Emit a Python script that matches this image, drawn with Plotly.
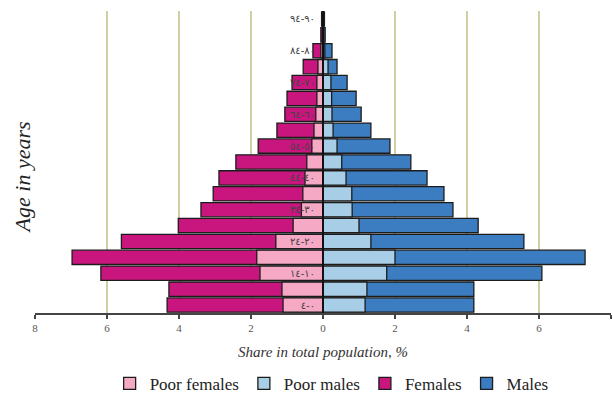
import plotly.graph_objects as go

age_groups = ["0-4", "5-9", "10-14", "15-19", "20-24", "25-29", "30-34", "35-39",
              "40-44", "45-49", "50-54", "55-59", "60-64", "65-69", "70-74",
              "75-79", "80-84", "85-89", "90-94"]
# Arabic-Indic tick labels shown on every second age group
age_labels = ["٠-٤", "", "١٠-١٤", "", "٢٠-٢٤", "", "٣٠-٣٤", "", "٤٠-٤٤", "",
              "٥٠-٥٤", "", "٦٠-٦٤", "", "٧٠-٧٤", "", "٨٠-٨٤", "", "٩٠-٩٤"]

females = [4.33, 4.28, 6.17, 6.97, 5.60, 4.02, 3.39, 3.05, 2.89, 2.42,
           1.80, 1.28, 1.06, 1.00, 0.86, 0.55, 0.28, 0.06, 0.04]
poor_females = [1.11, 1.14, 1.75, 1.84, 1.31, 0.83, 0.60, 0.56, 0.50, 0.45,
                0.31, 0.25, 0.20, 0.17, 0.17, 0.14, 0.06, 0.02, 0.01]
males = [4.19, 4.19, 6.08, 7.28, 5.58, 4.31, 3.61, 3.36, 2.89, 2.44,
         1.86, 1.33, 1.06, 0.92, 0.67, 0.39, 0.25, 0.06, 0.04]
poor_males = [1.17, 1.22, 1.77, 2.00, 1.33, 1.00, 0.81, 0.80, 0.64, 0.52,
              0.39, 0.28, 0.25, 0.24, 0.22, 0.14, 0.05, 0.02, 0.01]

x_ticks = [-8, -6, -4, -2, 0, 2, 4, 6, 8]
x_tick_text = ["8", "6", "4", "2", "0", "2", "4", "6", "8"]

FONT = "Liberation Serif"
outline = dict(color="#1c1c1c", width=1.3)

fig = go.Figure()
fig.add_trace(go.Bar(y=age_groups, x=[-v for v in females], orientation="h",
                     name="Females", legendrank=3,
                     marker=dict(color="#C8167E", line=outline)))
fig.add_trace(go.Bar(y=age_groups, x=males, orientation="h",
                     name="Males", legendrank=4,
                     marker=dict(color="#3B7DC0", line=outline)))
fig.add_trace(go.Bar(y=age_groups, x=[-v for v in poor_females], orientation="h",
                     name="Poor females", legendrank=1,
                     marker=dict(color="#F6A9C4", line=outline)))
fig.add_trace(go.Bar(y=age_groups, x=poor_males, orientation="h",
                     name="Poor males", legendrank=2,
                     marker=dict(color="#A8CDE6", line=outline)))

fig.update_layout(
    width=613, height=412,
    margin=dict(l=35, r=2, t=11, b=99, autoexpand=False),
    paper_bgcolor="white", plot_bgcolor="white",
    barmode="overlay", bargap=0.1,
    font=dict(family=FONT, color="#222"),
    showlegend=True,
    legend=dict(orientation="h", x=0.515, xanchor="center", y=-0.175, yanchor="top",
                font=dict(family=FONT, size=17, color="#222"),
                itemwidth=30, traceorder="normal", tracegroupgap=0),
    xaxis=dict(range=[-8, 8], tickvals=x_ticks, ticktext=x_tick_text,
               automargin=False,
               showgrid=True, gridcolor="#cfcfa2", gridwidth=2,
               zeroline=False, showline=True, linecolor="#444", linewidth=1.5,
               ticks="outside", ticklen=4, tickcolor="#444", tickwidth=1.5,
               tickfont=dict(family=FONT, size=11, color="#555"),
               title=dict(text="<i>Share in total population, %</i>",
                          font=dict(family=FONT, size=15, color="#333"),
                          standoff=14)),
    yaxis=dict(categoryorder="array", categoryarray=age_groups,
               tickvals=age_groups, ticktext=age_labels,
               automargin=False,
               anchor="free", position=0.5, side="left",
               showline=True, linecolor="#111", linewidth=2,
               showgrid=False, zeroline=False, ticks="",
               ticklabelstandoff=5,
               tickfont=dict(family="DejaVu Sans", size=10, color="#444"),
               range=[-0.5, 18.5]),
    annotations=[dict(text="<i>Age in years</i>", textangle=-90,
                      xref="paper", yref="paper", x=-0.022, y=0.45,
                      xanchor="center", yanchor="middle", showarrow=False,
                      font=dict(family=FONT, size=22, color="#222"))],
)

fig.write_html("out.html", config={"displayModeBar": False},
               post_script="document.body.style.margin='0';")
